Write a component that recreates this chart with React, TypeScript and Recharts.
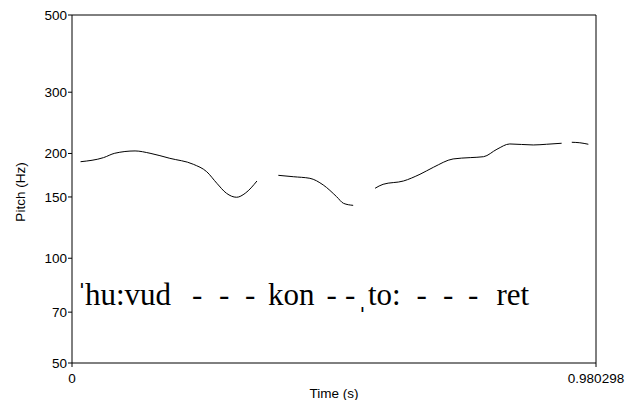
import React from 'react';
import { ComposedChart, Line, Scatter, XAxis, YAxis, ReferenceLine } from 'recharts';

const xTicks = [0, 0.980298];
const yTicks = [50, 70, 100, 150, 200, 300, 500];

// pitch contour (time s, Hz); gaps = unvoiced
const pitchSeg1 = [
  { t: 0.016, hz: 189.4 }, { t: 0.059, hz: 194.6 }, { t: 0.080, hz: 200.3 },
  { t: 0.118, hz: 203.4 }, { t: 0.146, hz: 200.3 }, { t: 0.183, hz: 193.7 },
  { t: 0.227, hz: 186.2 }, { t: 0.252, hz: 177.3 }, { t: 0.271, hz: 164.2 },
  { t: 0.289, hz: 153.7 }, { t: 0.308, hz: 149.7 }, { t: 0.324, hz: 153.7 },
  { t: 0.346, hz: 166.7 },
];
const pitchSeg2 = [
  { t: 0.386, hz: 173.1 }, { t: 0.414, hz: 171.5 }, { t: 0.445, hz: 169.7 },
  { t: 0.470, hz: 162.4 }, { t: 0.495, hz: 150.3 }, { t: 0.508, hz: 143.8 },
  { t: 0.526, hz: 141.9 },
];
const pitchSeg3 = [
  { t: 0.567, hz: 158.9 }, { t: 0.582, hz: 163.1 }, { t: 0.620, hz: 166.7 },
  { t: 0.651, hz: 174.3 }, { t: 0.676, hz: 182.5 }, { t: 0.713, hz: 192.9 },
  { t: 0.745, hz: 194.6 }, { t: 0.770, hz: 195.8 }, { t: 0.795, hz: 205.7 },
  { t: 0.819, hz: 213.0 }, { t: 0.863, hz: 211.6 }, { t: 0.888, hz: 212.6 },
  { t: 0.916, hz: 214.0 },
];
const pitchSeg4 = [
  { t: 0.935, hz: 215.4 }, { t: 0.950, hz: 214.7 }, { t: 0.966, hz: 212.6 },
];

// transcription pieces, left edge time + baseline pitch
const transcription = [
  { t: 0.0088, hz: 73.4, text: 'ˈ' },
  { t: 0.0243, hz: 73.4, text: 'hu:vud' },
  { t: 0.2245, hz: 73.4, text: '-' },
  { t: 0.2750, hz: 73.4, text: '-' },
  { t: 0.3237, hz: 73.4, text: '-' },
  { t: 0.3667, hz: 73.4, text: 'kon' },
  { t: 0.4762, hz: 73.4, text: '-' },
  { t: 0.5108, hz: 73.4, text: '-' },
  { t: 0.5337, hz: 73.4, text: 'ˌ' },
  { t: 0.5537, hz: 73.4, text: 'to:' },
  { t: 0.6445, hz: 73.4, text: '-' },
  { t: 0.6941, hz: 73.4, text: '-' },
  { t: 0.7409, hz: 73.4, text: '-' },
  { t: 0.7942, hz: 73.4, text: 'ret' },
];

const sans = '"Liberation Sans", Arial, sans-serif';
const serif = '"Liberation Serif", "Times New Roman", "DejaVu Serif", serif';

const TranscriptionText = (props: any) => (
  <text x={props.cx} y={props.cy} style={{ fontFamily: serif, fontSize: 31 }} fill="#000">
    {props.payload.text}
  </text>
);

const PitchLabel = (props: any) => {
  const vb = props.viewBox || { x: 0, y: 15, width: 72, height: 348 };
  const cx = vb.x + 20;
  const cy = vb.y + vb.height / 2 + 3;
  return (
    <text x={cx} y={cy} transform={`rotate(-90, ${cx}, ${cy})`} textAnchor="middle"
      dominantBaseline="central" style={{ fontFamily: sans, fontSize: 13.5 }} fill="#000">
      Pitch (Hz)
    </text>
  );
};

export default function App() {
  const segs = [pitchSeg1, pitchSeg2, pitchSeg3, pitchSeg4];
  return (
    <div style={{ position: 'absolute', left: 0, top: 0, width: 626, height: 400, background: '#fff' }}>
      <ComposedChart width={626} height={400} margin={{ top: 15, right: 30, bottom: 0, left: 0 }}>
        <XAxis
          type="number"
          dataKey="t"
          domain={[0, 0.980298]}
          ticks={xTicks}
          interval={0}
          tickFormatter={(v: number) => String(v)}
          height={37}
          tickSize={4}
          tickMargin={6}
          stroke="#000"
          tick={{ fill: '#000', fontSize: 13.5, fontFamily: sans }}
          label={{ value: 'Time (s)', position: 'insideBottom', offset: 2, fill: '#000', fontSize: 13.5, fontFamily: sans }}
        />
        <YAxis
          type="number"
          dataKey="hz"
          scale="log"
          domain={[50, 500]}
          allowDataOverflow
          ticks={yTicks}
          interval={0}
          width={72}
          tickSize={4}
          tickMargin={1}
          stroke="#000"
          tick={{ fill: '#000', fontSize: 13.5, fontFamily: sans }}
          label={{ content: <PitchLabel /> }}
        />
        <ReferenceLine y={500} stroke="#000" ifOverflow="visible" />
        <ReferenceLine x={0.980298} stroke="#000" ifOverflow="visible" />
        {segs.map((d, i) => (
          <Line key={i} data={d} dataKey="hz" type="monotone" stroke="#000" strokeWidth={1}
            dot={false} isAnimationActive={false} />
        ))}
        <Scatter data={transcription} dataKey="hz" shape={<TranscriptionText />} isAnimationActive={false} />
      </ComposedChart>
    </div>
  );
}
